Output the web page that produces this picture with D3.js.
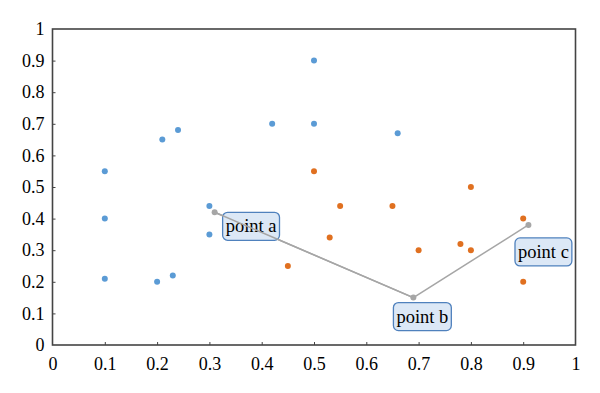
<!DOCTYPE html>
<html><head><meta charset="utf-8">
<script src="https://cdn.jsdelivr.net/npm/d3@7"></script>
<style>body{margin:0;background:#fff}svg text{font-family:"Liberation Serif","Times New Roman",serif}</style>
</head><body><svg id="c" width="600" height="393" font-family="Liberation Serif, serif"></svg>
<script>
const blueX = [0.1,0.1,0.1,0.2,0.21,0.23,0.24,0.3,0.3,0.42,0.5,0.5,0.66];
const blueY = [0.55,0.40,0.21,0.20,0.65,0.22,0.68,0.44,0.35,0.70,0.90,0.70,0.67];
const orangeX = [0.45,0.5,0.53,0.55,0.65,0.7,0.78,0.8,0.8,0.9,0.9];
const orangeY = [0.25,0.55,0.34,0.44,0.44,0.30,0.32,0.50,0.30,0.40,0.20];
const pathX = [0.31,0.69,0.91];
const pathY = [0.42,0.15,0.38];
const pathLabels = ["point a","point b","point c"];
const tickValues = [0,0.1,0.2,0.3,0.4,0.5,0.6,0.7,0.8,0.9,1];
const tickLabels = ["0","0.1","0.2","0.3","0.4","0.5","0.6","0.7","0.8","0.9","1"];

const svg = d3.select("#c");
const L=52.5, R=575.5, T=29, B=345;
const x = d3.scaleLinear().domain([0,1]).range([L,R]);
const y = d3.scaleLinear().domain([0,1]).range([B,T]);

const fmt = d => tickLabels[tickValues.indexOf(d)];
const xa = svg.append("g").attr("transform",`translate(0,${B})`)
  .call(d3.axisBottom(x).tickValues(tickValues).tickFormat(fmt).tickSizeInner(-3).tickSizeOuter(0).tickPadding(12));
const ya = svg.append("g").attr("transform",`translate(${L},0)`)
  .call(d3.axisLeft(y).tickValues(tickValues).tickFormat(fmt).tickSizeInner(-3).tickSizeOuter(0).tickPadding(8));
[xa,ya].forEach(a=>{
  a.attr("font-family","Liberation Serif, serif").attr("font-size",18);
  a.select(".domain").remove();
  a.selectAll(".tick line").attr("stroke","#444");
  a.selectAll("text").attr("fill","#000");
});
xa.selectAll(".tick").filter(d=>d===0||d===1).select("line").remove();
ya.selectAll(".tick").filter(d=>d===0||d===1).select("line").remove();

svg.append("rect").attr("x",L).attr("y",T).attr("width",R-L).attr("height",B-T)
  .attr("fill","none").attr("stroke","#444").attr("stroke-width",1.6);

const blue = blueX.map((v,i)=>[v,blueY[i]]);
const orange = orangeX.map((v,i)=>[v,orangeY[i]]);
svg.append("g").selectAll("circle").data(blue).join("circle")
  .attr("cx",d=>x(d[0])).attr("cy",d=>y(d[1])).attr("r",3).attr("fill","#5b9bd5");
svg.append("g").selectAll("circle").data(orange).join("circle")
  .attr("cx",d=>x(d[0])).attr("cy",d=>y(d[1])).attr("r",3).attr("fill","#e07020");

const pts = pathX.map((v,i)=>[v,pathY[i]]);
svg.append("path").datum(pts).attr("d",d3.line().x(d=>x(d[0])).y(d=>y(d[1])))
  .attr("fill","none").attr("stroke","#a6a6a6").attr("stroke-width",1.5);

const offs = [[8,0,"start"],[9,5,"middle"],[15,13,"middle"]];
const lg = svg.append("g");
pts.forEach((p,i)=>{
  const g = lg.append("g");
  const px=x(p[0]), py=y(p[1]);
  const t = g.append("text").attr("font-size",18.5).attr("fill","#000").text(pathLabels[i]);
  const w = t.node().getComputedTextLength();
  const bw = w+6, bh=28;
  let bx = offs[i][2]==="start" ? px+offs[i][0] : px+offs[i][0]-bw/2;
  let by = py+offs[i][1];
  g.insert("rect","text").attr("x",bx).attr("y",by).attr("width",bw).attr("height",bh)
    .attr("rx",5).attr("fill","#dce8f6").attr("stroke","#4f81bd").attr("stroke-width",1.3);
  t.attr("x",bx+3).attr("y",by+20);
});
svg.append("path").datum(pts.slice(0,2)).attr("d",d3.line().x(d=>x(d[0])).y(d=>y(d[1])))
  .attr("fill","none").attr("stroke","#a6a6a6").attr("stroke-width",1.5);
svg.append("g").selectAll("circle").data(pts).join("circle")
  .attr("cx",d=>x(d[0])).attr("cy",d=>y(d[1])).attr("r",3).attr("fill","#a6a6a6");
</script></body></html>
